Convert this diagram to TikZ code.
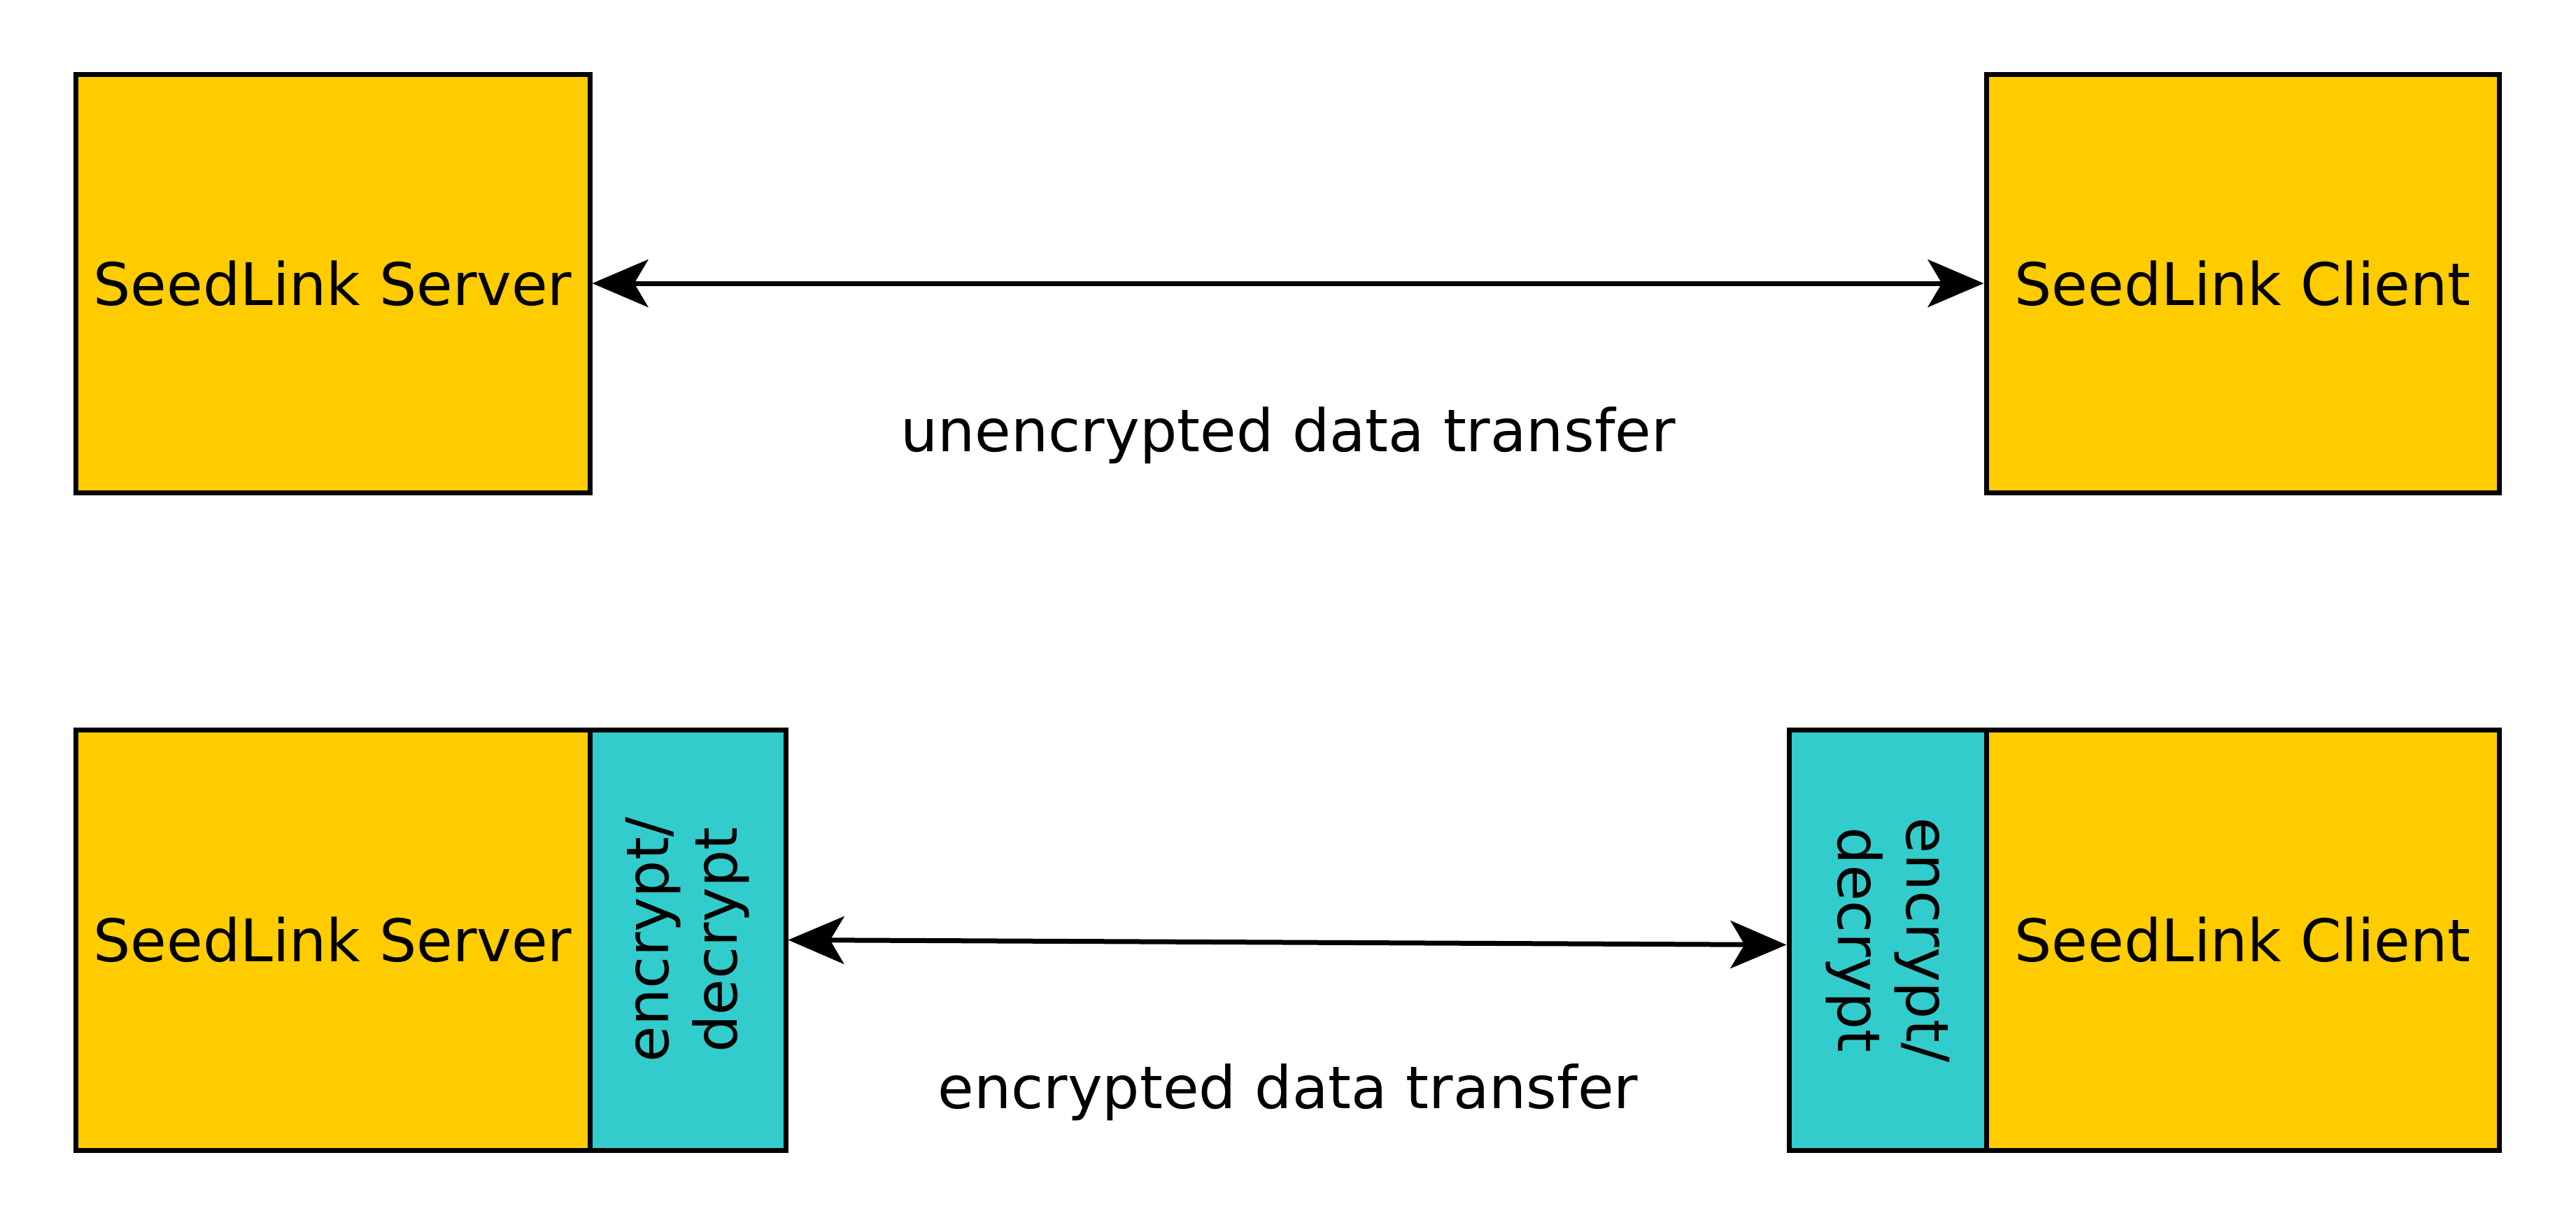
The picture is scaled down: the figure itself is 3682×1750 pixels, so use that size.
\documentclass[tikz,border=0pt]{standalone}
\usepackage{fontspec}
\setmainfont{DejaVu Sans}
\usetikzlibrary{arrows.meta,calc}
\definecolor{boxyellow}{HTML}{FFCC00}
\definecolor{boxcyan}{HTML}{33CCCC}
\begin{document}
\begin{tikzpicture}[x=0.25pt,y=-0.25pt,
  txt/.style={font=\fontsize{21}{24.5}\selectfont, text=black},
  box/.style={draw=black, line width=1.75pt, fill=boxyellow, inner sep=0pt, txt},
  encbox/.style={draw=black, line width=1.75pt, fill=boxcyan, inner sep=0pt, txt, align=center},
  conn/.style={line width=1.75pt, {Stealth[length=20pt,width=17pt,inset=5pt]}-{Stealth[length=20pt,width=17pt,inset=5pt]}}
]
\useasboundingbox (0,0) rectangle (3682,1750);
% top row
\node[box, minimum width=183.75pt, minimum height=149.5pt] (srv1) at (475.5,405) {SeedLink Server};
\node[box, minimum width=183.25pt, minimum height=149.5pt] (cli1) at (3205.5,405) {SeedLink Client};
\draw[conn] (srv1.east) -- (cli1.west);
\node[txt] (lab1) at (1841,622) {unencrypted data transfer};
% bottom row
\node[box, minimum width=183.75pt, minimum height=150.25pt] (srv2) at (475.5,1343.5) {SeedLink Server};
\node[box, minimum width=183.25pt, minimum height=150.25pt] (cli2) at (3205.5,1343.5) {SeedLink Client};
\node[encbox, minimum width=70pt, minimum height=150.25pt] (encL) at (983,1343.5) {};
\node[encbox, minimum width=70.5pt, minimum height=150.25pt] (encR) at (2698,1343.5) {};
\node[txt, align=center, rotate=90] (encLt) at (encL.center) {encrypt/\\decrypt};
\node[txt, align=center, rotate=-90] (encRt) at (encR.center) {encrypt/\\decrypt};
\draw[conn] (encL.east) -- ($(encR.west)+(0,7)$);
\node[txt] (lab2) at (1841,1561) {encrypted data transfer};
\end{tikzpicture}
\end{document}
